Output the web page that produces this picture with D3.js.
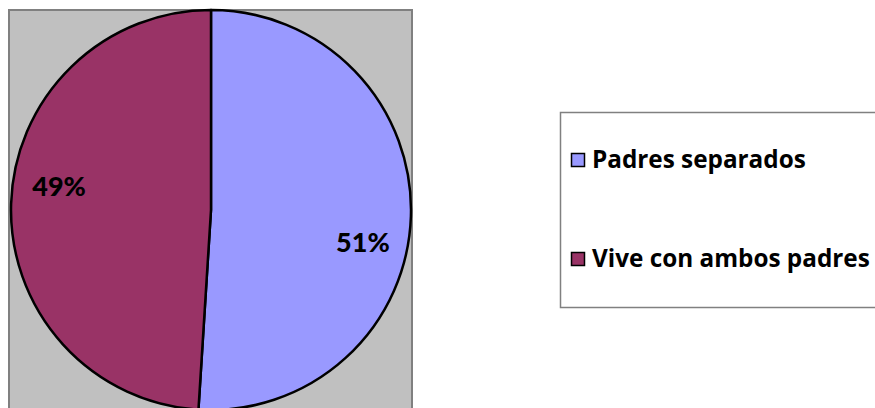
<!DOCTYPE html>
<html>
<head>
<meta charset="utf-8">
<script src="https://cdn.jsdelivr.net/npm/d3@7"></script>
<style>
  html, body { margin: 0; padding: 0; background: #fff; }
  svg { display: block; font-family: Lato, "Open Sans", sans-serif; font-weight: bold; }
</style>
</head>
<body>
<div id="chart"></div>
<script>
// data
var categories = ["Padres separados", "Vive con ambos padres"];
var values = [51, 49];
var colors = ["#9999FF", "#993366"];

var W = 875, H = 408;
var cx = 211, cy = 210, r = 200;

var svg = d3.select("#chart").append("svg")
    .attr("width", W)
    .attr("height", H);

// plot area
svg.append("rect")
    .attr("x", 9).attr("y", 10)
    .attr("width", 403).attr("height", 420)
    .style("fill", "#C0C0C0")
    .style("stroke", "#808080")
    .style("stroke-width", 2);

var pie = d3.pie().sort(null).value(function(d) { return d; });
var arcs = pie(values);

var arc = d3.arc().innerRadius(0).outerRadius(r);
var labelArc = d3.arc().innerRadius(r * 0.76).outerRadius(r * 0.76);
var labelShift = [28, -19]; // best-fit nudges as in the original

var g = svg.append("g")
    .attr("transform", "translate(" + cx + "," + cy + ")");

g.selectAll("path.slice")
    .data(arcs)
    .enter().append("path")
    .attr("class", "slice")
    .attr("d", arc)
    .style("fill", function(d, i) { return colors[i]; })
    .style("stroke", "#000")
    .style("stroke-width", 2.5)
    .style("stroke-linejoin", "round");

g.selectAll("text.pct")
    .data(arcs)
    .enter().append("text")
    .attr("class", "pct")
    .attr("x", function(d) { return labelArc.centroid(d)[0]; })
    .attr("y", function(d, i) { return labelArc.centroid(d)[1] + labelShift[i]; })
    .attr("dy", "0.36em")
    .style("text-anchor", "middle")
    .style("font-size", "27px")
    .style("font-weight", 900)
    .style("fill", "#000")
    .text(function(d) { return Math.round(d.data) + "%"; });

// legend
var legend = svg.append("g");
legend.append("rect")
    .attr("x", 560.5).attr("y", 112.5)
    .attr("width", 340).attr("height", 195)
    .style("fill", "#fff")
    .style("stroke", "#808080")
    .style("stroke-width", 1.5);

var ly = d3.scalePoint().domain(categories).range([160, 259]);

var item = legend.selectAll("g.item")
    .data(categories)
    .enter().append("g")
    .attr("class", "item")
    .attr("transform", function(d) { return "translate(0," + ly(d) + ")"; });

item.append("rect")
    .attr("x", 571.5).attr("y", -6.5)
    .attr("width", 13).attr("height", 13)
    .style("fill", function(d, i) { return colors[i]; })
    .style("stroke", "#000")
    .style("stroke-width", 1.5);

item.append("text")
    .attr("x", 592)
    .attr("y", 8)
    .style("font-family", "'Open Sans', sans-serif")
    .style("font-size", "24.3px")
    .style("fill", "#000")
    .text(function(d) { return d; });
</script>
</body>
</html>
